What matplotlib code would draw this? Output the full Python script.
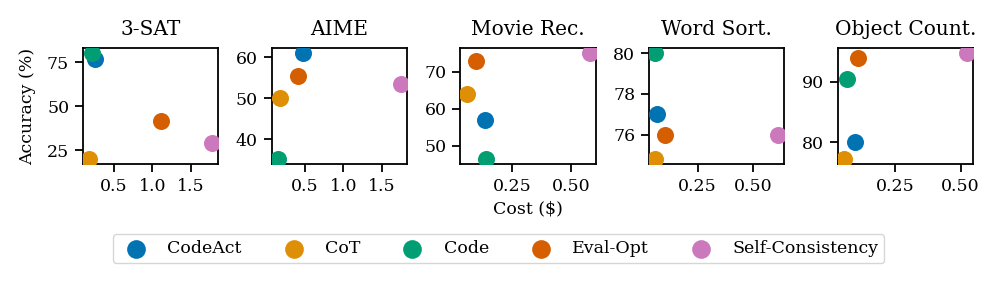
import matplotlib.pyplot as plt

methods = ['CodeAct', 'CoT', 'Code', 'Eval-Opt', 'Self-Consistency']
colors = ['#0173b2', '#de8f05', '#029e73', '#d55e00', '#cc78bc']

tasks = ['3-SAT', 'AIME', 'Movie Rec.', 'Word Sort.', 'Object Count.']

# cost ($) per method, one list per task (order follows methods)
sat_cost = [0.25, 0.18, 0.21, 1.11, 1.78]
sat_acc = [77.0, 20.0, 80.0, 41.7, 29.0]

aime_cost = [0.47, 0.17, 0.145, 0.41, 1.75]
aime_acc = [61.0, 50.0, 35.2, 55.5, 53.4]

movie_cost = [0.137, 0.059, 0.141, 0.10, 0.578]
movie_acc = [57.0, 64.0, 46.4, 73.0, 75.0]

word_cost = [0.066, 0.059, 0.06, 0.105, 0.612]
word_acc = [77.0, 74.8, 80.0, 76.0, 76.0]

obj_cost = [0.099, 0.057, 0.068, 0.111, 0.524]
obj_acc = [80.0, 77.2, 90.5, 93.9, 94.7]

costs = [sat_cost, aime_cost, movie_cost, word_cost, obj_cost]
accs = [sat_acc, aime_acc, movie_acc, word_acc, obj_acc]

plt.rcParams['font.family'] = 'DejaVu Serif'
plt.rcParams['font.size'] = 12.5

fig, axes = plt.subplots(1, 5, figsize=(9.97, 2.82), dpi=100)
fig.subplots_adjust(left=0.0833, right=0.976, top=0.830, bottom=0.417, wspace=0.395)

for ax, task, xs, ys in zip(axes, tasks, costs, accs):
    for m, c, x, y in zip(methods, colors, xs, ys):
        ax.scatter(x, y, s=150, color=c, label=m, linewidths=0, zorder=3)
    ax.set_title(task, fontsize=14.5, pad=9)
    ax.tick_params(length=6, width=1.3, labelsize=12.5, pad=4)
    for sp in ax.spines.values():
        sp.set_linewidth(1.3)

for ax in axes[:2]:
    ax.set_xticks([0.5, 1.0, 1.5])
for ax in axes[2:]:
    ax.set_xticks([0.25, 0.5])
    ax.set_xticklabels(['0.25', '0.50'])

axes[0].set_yticks([25, 50, 75])
axes[1].set_yticks([40, 50, 60])
axes[2].set_yticks([50, 60, 70])
axes[3].set_yticks([76, 78, 80])
axes[4].set_yticks([80, 90])

axes[0].set_ylabel('Accuracy (%)', fontsize=12.5, labelpad=8)
axes[2].set_xlabel('Cost ($)', fontsize=12.5)

handles, labels = axes[0].get_legend_handles_labels()
fig.legend(handles, labels, loc='center', bbox_to_anchor=(0.5, 0.118), ncol=5,
           fontsize=12.5, markerscale=1.1, handletextpad=0.8, columnspacing=2.0,
           frameon=True, edgecolor='#cccccc', fancybox=True, borderpad=0.35)

plt.savefig('out.png', dpi=100)
